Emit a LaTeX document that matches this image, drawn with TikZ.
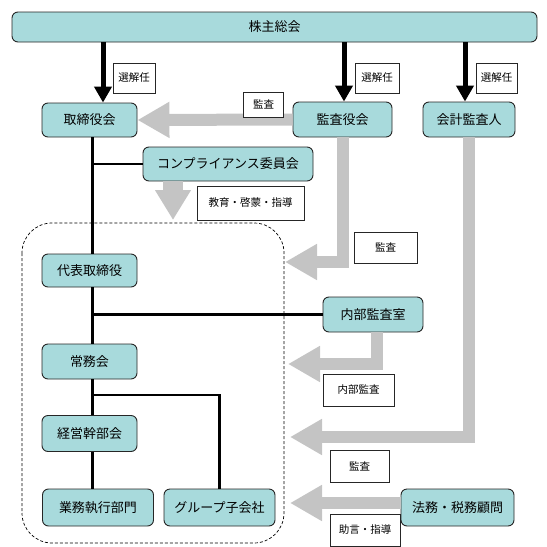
\documentclass[tikz,border=0pt]{standalone}
\usepackage{fontspec}
\setmainfont{Noto Sans CJK JP}
\usetikzlibrary{arrows.meta}
\definecolor{boxcyan}{RGB}{168,218,220}
\definecolor{arrowgray}{RGB}{196,196,196}

\begin{document}
\begin{tikzpicture}[x=1pt,y=-1pt,
    org/.style={draw=black!85, fill=boxcyan, rounded corners=6pt, line width=0.9pt,
        font=\fontsize{13}{15}\selectfont, inner sep=0pt},
    tag/.style={draw=black!85, fill=white, line width=0.9pt,
        font=\fontsize{10.5}{12}\selectfont, inner sep=0pt},
    link/.style={line width=2.2pt},
    elect/.style={line width=5pt, -{Triangle[width=17pt,length=16pt]}},
    flow/.style={draw=arrowgray, line width=12pt, -{Triangle[width=34pt,length=32pt]}},
    flowdown/.style={draw=arrowgray, line width=20pt, -{Triangle[width=34pt,length=30pt]}}
]
    \useasboundingbox (0,0) rectangle (547,547);

    % Group frame
    \draw[dash pattern=on 3pt off 2pt, line width=0.7pt, rounded corners=30pt] (22,223) rectangle (284,543);

    % Boards
    \node[org, minimum width=525pt, minimum height=30pt] (soukai) at (274.5,27) {株主総会};
    \node[org, minimum width=95pt, minimum height=34pt] (torishimari) at (89.5,120) {取締役会};
    \node[org, minimum width=99pt, minimum height=35pt] (kansayaku) at (342.5,119.5) {監査役会};
    \node[org, minimum width=92pt, minimum height=35pt] (kaikei) at (469,119.5) {会計監査人};
    \node[org, minimum width=170pt, minimum height=34pt] (compliance) at (228,164) {コンプライアンス委員会};

    % Executive side
    \node[org, minimum width=95pt, minimum height=33pt] (daihyo) at (89.5,270.5) {代表取締役};
    \node[org, minimum width=100pt, minimum height=35pt] (naibu) at (373,314.5) {内部監査室};
    \node[org, minimum width=95pt, minimum height=35pt] (jomu) at (89.5,361.5) {常務会};
    \node[org, minimum width=95pt, minimum height=36pt] (keiei) at (89.5,433.5) {経営幹部会};
    \node[org, minimum width=111pt, minimum height=37pt] (gyomu) at (98,507.5) {業務執行部門};
    \node[org, minimum width=111pt, minimum height=37pt] (group) at (219.5,507.5) {グループ子会社};
    \node[org, minimum width=113pt, minimum height=37pt] (homu) at (457.5,507.5) {法務・税務顧問};

    % Election arrows
    \coordinate (e1) at ([xshift=13.5pt]torishimari.north);
    \coordinate (e2) at ([xshift=1.5pt]kansayaku.north);
    \coordinate (e3) at ([xshift=-4pt]kaikei.north);
    \foreach \e in {e1,e2,e3} {
        \draw[elect] (\e |- soukai.south) -- (\e);
    }

    % Reporting lines
    \coordinate (sp) at ([xshift=3pt]torishimari.south);
    \draw[link] (sp) -- (sp |- daihyo.north);
    \draw[link] (sp |- compliance.west) -- (compliance.west);
    \draw[link] (sp |- daihyo.south) -- (sp |- jomu.north);
    \draw[link] (sp |- naibu.west) -- (naibu.west);
    \draw[link] (sp |- jomu.south) -- (sp |- keiei.north);
    \coordinate (br) at (92.5,395);
    \draw[link] (br -| sp) -| (group.north);
    \draw[link] (sp |- keiei.south) -- (sp |- gyomu.north);

    % Audit and advice arrows
    \draw[flow] (kansayaku.west) -- (torishimari.east);
    \coordinate (c1) at (173,220);
    \draw[flowdown] (c1 |- compliance.south) -- (c1);
    \coordinate (t1) at (285,262);
    \draw[flow] (kansayaku.south) |- (t1);
    \coordinate (t2) at (288,364);
    \draw[flow] ([xshift=4pt]naibu.south) |- (t2);
    \coordinate (t3) at (290,437);
    \draw[flow] (kaikei.south) |- (t3);
    \coordinate (t4) at (290,503);
    \draw[flow] ([yshift=4.5pt]homu.west) -- (t4);

    % Labels
    \node[tag, minimum width=42pt, minimum height=30pt] (sen1) at (134,78) {選解任};
    \node[tag, minimum width=44pt, minimum height=30pt] (sen2) at (377,78) {選解任};
    \node[tag, minimum width=41pt, minimum height=30pt] (sen3) at (496.5,78) {選解任};
    \node[tag, minimum width=40pt, minimum height=25pt] (kansa1) at (263.5,104.5) {監査};
    \node[tag, minimum width=107pt, minimum height=34pt] (kyoiku) at (250.5,203) {教育・啓蒙・指導};
    \node[tag, minimum width=63pt, minimum height=31pt] (kansa2) at (385.5,247.5) {監査};
    \node[tag, minimum width=71pt, minimum height=32pt] (naibukansa) at (358.5,390) {内部監査};
    \node[tag, minimum width=59pt, minimum height=32pt] (kansa3) at (359.5,466) {監査};
    \node[tag, minimum width=70pt, minimum height=32pt] (jogen) at (365,530) {助言・指導};
\end{tikzpicture}
\end{document}
